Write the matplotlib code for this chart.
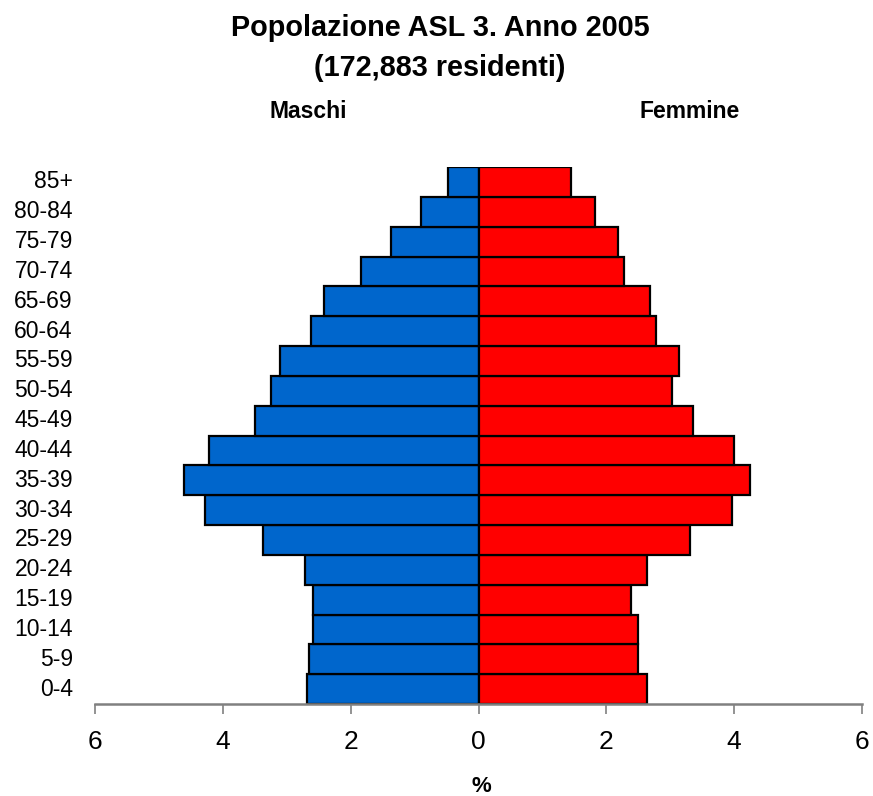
import numpy as np
import matplotlib
matplotlib.use('Agg')
import matplotlib.pyplot as plt

plt.rcParams['font.family'] = ['Liberation Sans', 'DejaVu Sans']

# age classes, bottom to top
ages = ['0-4', '5-9', '10-14', '15-19', '20-24', '25-29', '30-34', '35-39',
        '40-44', '45-49', '50-54', '55-59', '60-64', '65-69', '70-74',
        '75-79', '80-84', '85+']
maschi = [2.68, 2.65, 2.59, 2.59, 2.72, 3.37, 4.28, 4.60, 4.22, 3.50,
          3.25, 3.10, 2.62, 2.41, 1.84, 1.37, 0.90, 0.47]
femmine = [2.63, 2.50, 2.50, 2.38, 2.63, 3.31, 3.97, 4.25, 4.00, 3.35,
           3.03, 3.13, 2.78, 2.69, 2.28, 2.19, 1.82, 1.44]
xticks = [-6, -4, -2, 0, 2, 4, 6]

W, H = 873, 796
fig = plt.figure(figsize=(W / 100, H / 100), dpi=100)
ax = fig.add_axes([95 / W, 1 - 704 / H, (862 - 95) / W, (704 - 167) / H])

y = np.arange(len(ages))
ax.barh(y, -np.array(maschi), height=1.0, color='#0066CC', edgecolor='black', linewidth=1.6)
ax.barh(y, femmine, height=1.0, color='#FF0000', edgecolor='black', linewidth=1.6)

ax.set_xlim(-6, 6)
ax.set_ylim(-0.5, len(ages) - 0.5)
ax.set_yticks(y)
ax.set_yticklabels(ages, fontsize=16.5, va='center')
ax.tick_params(axis='y', length=0, pad=16)
ax.set_xticks(xticks)
ax.set_xticklabels([str(abs(v)) for v in xticks], fontsize=19)
ax.tick_params(axis='x', length=7, width=1.2, color='#808080', pad=12)

for s in ['left', 'right', 'top']:
    ax.spines[s].set_visible(False)
ax.spines['bottom'].set_color('#808080')
ax.spines['bottom'].set_linewidth(1.8)

fig.text(440 / W, 1 - 28 / H, 'Popolazione ASL 3. Anno 2005', ha='center', va='center',
         fontsize=20.8, fontweight='bold')
fig.text(440 / W, 1 - 68 / H, '(172,883 residenti)', ha='center', va='center',
         fontsize=20.8, fontweight='bold')
fig.text(308 / W, 1 - 112 / H, 'Maschi', ha='center', va='center', fontsize=16.5, fontweight='bold')
fig.text(690 / W, 1 - 112 / H, 'Femmine', ha='center', va='center', fontsize=16.5, fontweight='bold')
fig.text(481 / W, 1 - 786 / H, '%', ha='center', va='center', fontsize=16, fontweight='bold')

plt.savefig('out.png', dpi=100)
plt.close('all')
